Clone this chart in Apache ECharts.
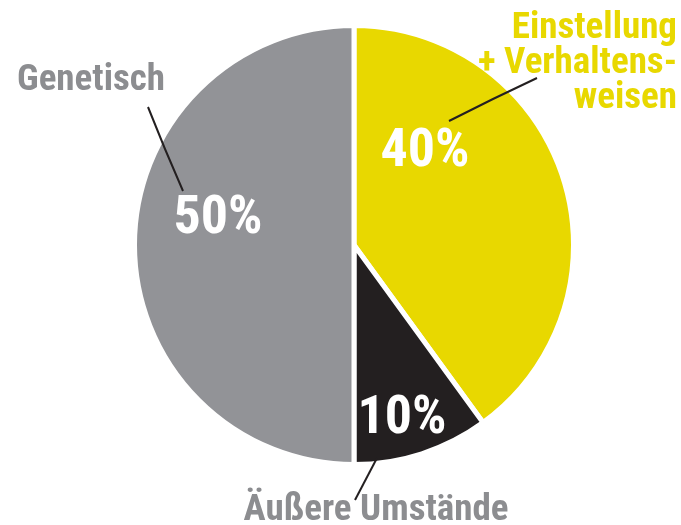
<!DOCTYPE html>
<html>
<head>
<meta charset="utf-8">
<script src="https://cdn.jsdelivr.net/npm/echarts@6/dist/echarts.min.js"></script>
<style>
html,body{margin:0;padding:0;background:#fff;}
#c{width:681px;height:525px;}
</style>
</head>
<body>
<div id="c"></div>
<script>
// Data
var categories = ['Einstellung\n+ Verhaltens-\nweisen', 'Äußere Umstände', 'Genetisch'];
var values = [40, 10, 50];
var colors = ['#E8D800', '#231F20', '#929397'];
var nameColors = ['#E8D800', '#8C8D90', '#8C8D90'];

// Annotation layout (label anchor positions and leader lines)
var FONT = "'Roboto Condensed', 'Liberation Sans Narrow', 'DejaVu Sans Condensed', sans-serif";
var pctPos = [[425, 152], [402, 419], [218, 219]];
var namePos = [
  {x: 677, y: 64, align: 'right'},
  {x: 376, y: 511, align: 'center'},
  {x: 17, y: 81, align: 'left'}
];
var leaderLines = [
  [[449, 121], [493, 99], [537, 78]],
  [[377, 458], [366, 479], [355, 500]],
  [[183, 191], [165, 149], [148, 107]]
];

var chart = echarts.init(document.getElementById('c'), null, {renderer: 'canvas'});
var dataItems = categories.map(function (n, i) {
  return {name: n, value: values[i], itemStyle: {color: colors[i]}};
});
var nameItems = categories.map(function (n, i) {
  return {name: n, value: values[i], label: {color: nameColors[i]}};
});
var center = [354, 245];
var radius = 219.5;

chart.setOption({
  animation: false,
  backgroundColor: '#ffffff',
  series: [
    {
      type: 'pie',
      center: center,
      radius: radius,
      startAngle: 90,
      clockwise: true,
      avoidLabelOverlap: false,
      silent: true,
      itemStyle: {borderColor: '#ffffff', borderWidth: 5},
      label: {
        show: true,
        position: 'inside',
        formatter: '{c}%',
        color: '#ffffff',
        fontFamily: FONT,
        fontWeight: 'bold',
        fontSize: 54,
        overflow: 'none'
      },
      labelLine: {show: false},
      labelLayout: function (p) {
        return {x: pctPos[p.dataIndex][0], y: pctPos[p.dataIndex][1], align: 'center', verticalAlign: 'middle'};
      },
      data: dataItems,
      z: 2
    },
    {
      type: 'pie',
      center: center,
      radius: radius,
      startAngle: 90,
      clockwise: true,
      avoidLabelOverlap: false,
      silent: true,
      itemStyle: {color: 'rgba(0,0,0,0)', borderWidth: 0},
      label: {
        show: true,
        position: 'outside',
        formatter: '{b}',
        fontFamily: FONT,
        fontWeight: 'bold',
        fontSize: 37,
        lineHeight: 35,
        overflow: 'none'
      },
      labelLine: {show: true, length: 10, length2: 10, lineStyle: {color: '#231F20', width: 2}},
      labelLayout: function (p) {
        var np = namePos[p.dataIndex];
        return {x: np.x, y: np.y, align: np.align, verticalAlign: 'middle', labelLinePoints: leaderLines[p.dataIndex]};
      },
      data: nameItems,
      z: 3
    }
  ]
});
</script>
</body>
</html>
